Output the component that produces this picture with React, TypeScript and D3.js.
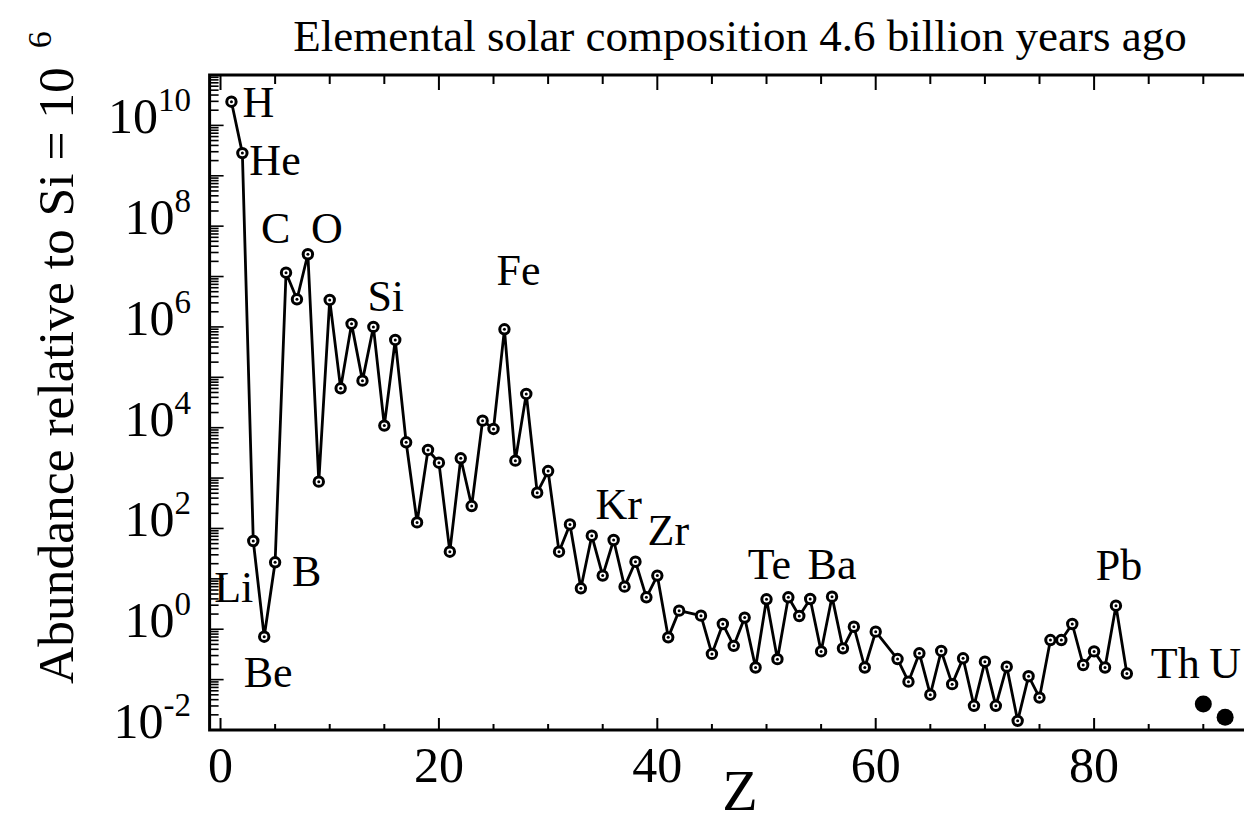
import React, { useEffect, useRef } from 'react'
import * as d3 from 'd3'

// atomic number and abundance (relative to Si = 1e6)
const atomicNumbers = [
  1, 2, 3, 4, 5, 6, 7, 8, 9, 10, 11, 12, 13, 14, 15, 16, 17, 18, 19, 20,
  21, 22, 23, 24, 25, 26, 27, 28, 29, 30, 31, 32, 33, 34, 35, 36, 37, 38, 39, 40,
  41, 42, 44, 45, 46, 47, 48, 49, 50, 51, 52, 53, 54, 55, 56, 57, 58, 59, 60,
  62, 63, 64, 65, 66, 67, 68, 69, 70, 71, 72, 73, 74, 75, 76, 77, 78, 79, 80,
  81, 82, 83,
]
const abundances = [
  2.95e10, 2.82e9, 56.4, 0.711, 21.3, 1.19e7, 3.54e6, 2.77e7, 849, 3.43e6,
  6.05e4, 1.15e6, 8.59e4, 1.0e6, 1.1e4, 5.51e5, 5130, 132, 3610, 2020,
  34.6, 2470, 279, 1.38e4, 9440, 8.97e5, 2220, 4.67e4, 514, 1380,
  34.6, 120, 6.49, 71.9, 11.6, 59.0, 7.0, 21.9, 4.3, 11.6,
  0.69, 2.34, 1.86, 0.324, 1.27, 0.468, 1.7, 0.174, 3.93, 0.255,
  4.3, 1.83, 3.98, 0.363, 4.43, 0.417, 1.12, 0.174, 0.895,
  0.256, 0.0912, 0.333, 0.0502, 0.37, 0.0813, 0.265, 0.0302, 0.227, 0.0302,
  0.181, 0.0152, 0.117, 0.044, 0.611, 0.611, 1.27, 0.195, 0.363,
  0.174, 2.93, 0.132,
]
// thorium and uranium, drawn as filled dots
const heavyZ = [90, 92]
const heavyAbundances = [0.0328, 0.0179]

// element labels: symbol, atomic number
const labelSymbols = ['H', 'He', 'Li', 'Be', 'B', 'C', 'O', 'Si', 'Fe', 'Kr', 'Zr', 'Te', 'Ba', 'Pb', 'Th', 'U']
const labelZ = [1, 2, 3, 4, 5, 6, 8, 14, 26, 36, 40, 52, 56, 82, 90, 92]

const xTickValues = [0, 20, 40, 60, 80]
const yTickExponents = [-2, 0, 2, 4, 6, 8, 10]

const W = 1244
const H = 823
const FONT = '"Liberation Serif", "Times New Roman", serif'

// label offsets (pixels) from their point, anchor
const labelPlacement: Record<string, [number, number, string]> = {
  H: [11, 15, 'start'],
  He: [7, 22, 'start'],
  Li: [0, 61, 'end'],
  Be: [4, 50, 'middle'],
  B: [17, 24, 'start'],
  C: [-25, -30, 'start'],
  O: [3, -11, 'start'],
  Si: [-6, -16, 'start'],
  Fe: [-8, -44, 'start'],
  Kr: [5, -21, 'middle'],
  Zr: [11, -31, 'middle'],
  Te: [-19, -18, 'middle'],
  Ba: [0, -18, 'middle'],
  Pb: [3, -26, 'middle'],
  Th: [-28, -26, 'middle'],
  U: [0, -39, 'middle'],
}

export default function App() {
  const ref = useRef<SVGSVGElement>(null)

  useEffect(() => {
    const svg = d3.select(ref.current)
    svg.selectAll('*').remove()

    const x = d3.scaleLinear().domain([-1, 100]).range([209.6, 1312.5])
    const y = d3.scaleLog().domain([1e-2, 1e11]).range([730, 75])
    const top = 75
    const bottom = 730

    const points = atomicNumbers.map((z, i) => [z, abundances[i]] as [number, number])
    const heavy = heavyZ.map((z, i) => [z, heavyAbundances[i]] as [number, number])

    // title
    svg.append('text')
      .attr('x', 740).attr('y', 51)
      .attr('text-anchor', 'middle')
      .style('font-family', FONT).style('font-size', '45px')
      .text('Elemental solar composition 4.6 billion years ago')

    // data line
    const line = d3.line<[number, number]>()
      .x(d => x(d[0]))
      .y(d => y(d[1]))
    svg.append('path')
      .datum(points)
      .attr('d', line)
      .attr('fill', 'none')
      .attr('stroke', '#000')
      .attr('stroke-width', 2.8)
      .attr('stroke-linejoin', 'round')

    // open markers with center dot
    const marks = svg.append('g')
    marks.selectAll('circle.m')
      .data(points)
      .join('circle')
      .attr('class', 'm')
      .attr('cx', d => x(d[0]))
      .attr('cy', d => y(d[1]))
      .attr('r', 4.7)
      .attr('fill', '#fff')
      .attr('stroke', '#000')
      .attr('stroke-width', 3)
    marks.selectAll('circle.c')
      .data(points)
      .join('circle')
      .attr('class', 'c')
      .attr('cx', d => x(d[0]))
      .attr('cy', d => y(d[1]))
      .attr('r', 1.5)
      .attr('fill', '#000')

    svg.append('g').selectAll('circle')
      .data(heavy)
      .join('circle')
      .attr('cx', d => x(d[0]))
      .attr('cy', d => y(d[1]))
      .attr('r', 8.5)
      .attr('fill', '#000')

    // element labels
    const valueAt = (z: number) => {
      const i = atomicNumbers.indexOf(z)
      if (i >= 0) return abundances[i]
      return heavyAbundances[heavyZ.indexOf(z)]
    }
    svg.append('g').selectAll('text')
      .data(labelSymbols)
      .join('text')
      .attr('x', (s, i) => x(labelZ[i]) + labelPlacement[s][0])
      .attr('y', (s, i) => y(valueAt(labelZ[i])) + labelPlacement[s][1])
      .attr('text-anchor', s => labelPlacement[s][2])
      .style('font-family', FONT).style('font-size', '44px')
      .text(s => s)

    // frame
    svg.append('rect')
      .attr('x', x(-1)).attr('y', top)
      .attr('width', x(100) - x(-1)).attr('height', bottom - top)
      .attr('fill', 'none').attr('stroke', '#000').attr('stroke-width', 3)

    // x ticks, bottom and top
    const xt = d3.range(0, 101, 5)
    const ticks = svg.append('g').attr('stroke', '#000')
    ticks.selectAll('line.b')
      .data(xt)
      .join('line')
      .attr('class', 'b')
      .attr('x1', d => x(d)).attr('x2', d => x(d))
      .attr('y1', bottom).attr('y2', d => bottom - (d % 20 === 0 ? 12 : 6))
      .attr('stroke-width', 2)
    ticks.selectAll('line.t')
      .data(xt)
      .join('line')
      .attr('class', 't')
      .attr('x1', d => x(d)).attr('x2', d => x(d))
      .attr('y1', top).attr('y2', d => top + (d % 20 === 0 ? 15 : 9))
      .attr('stroke-width', 2)

    // y log ticks
    const yt: [number, boolean][] = []
    for (let n = -2; n <= 10; n++) {
      yt.push([Math.pow(10, n), true])
      for (let k = 2; k <= 9; k++) yt.push([k * Math.pow(10, n), false])
    }
    ticks.selectAll('line.l')
      .data(yt)
      .join('line')
      .attr('class', 'l')
      .attr('x1', x(-1)).attr('x2', d => x(-1) + (d[1] ? 14 : 9))
      .attr('y1', d => y(d[0])).attr('y2', d => y(d[0]))
      .attr('stroke-width', 1.6)

    // x tick labels
    svg.append('g').selectAll('text')
      .data(xTickValues)
      .join('text')
      .attr('x', d => x(d)).attr('y', 782)
      .attr('text-anchor', 'middle')
      .style('font-family', FONT).style('font-size', '50px')
      .text(d => d)

    // y tick labels 10^n
    const yl = svg.append('g').selectAll('text')
      .data(yTickExponents)
      .join('text')
      .attr('x', 191).attr('y', d => y(Math.pow(10, d)) + 8)
      .attr('text-anchor', 'end')
      .style('font-family', FONT).style('font-size', '50px')
    yl.append('tspan').text('10')
    yl.append('tspan')
      .attr('dy', -22)
      .style('font-size', '33px')
      .text(d => d)

    // axis titles
    svg.append('text')
      .attr('x', 740).attr('y', 810)
      .attr('text-anchor', 'middle')
      .style('font-family', FONT).style('font-size', '58px')
      .text('Z')

    const yTitle = svg.append('text')
      .attr('transform', 'translate(73,684) rotate(-90)')
      .attr('text-anchor', 'start')
      .style('font-family', FONT).style('font-size', '51.5px')
    yTitle.append('tspan').text('Abundance relative to Si = 10 ')
    yTitle.append('tspan').attr('dx', 6).attr('dy', -22).style('font-size', '34px').text('6')
  }, [])

  return (
    <svg
      ref={ref}
      width={W}
      height={H}
      style={{ position: 'absolute', left: 0, top: 0, background: '#fff' }}
    />
  )
}
